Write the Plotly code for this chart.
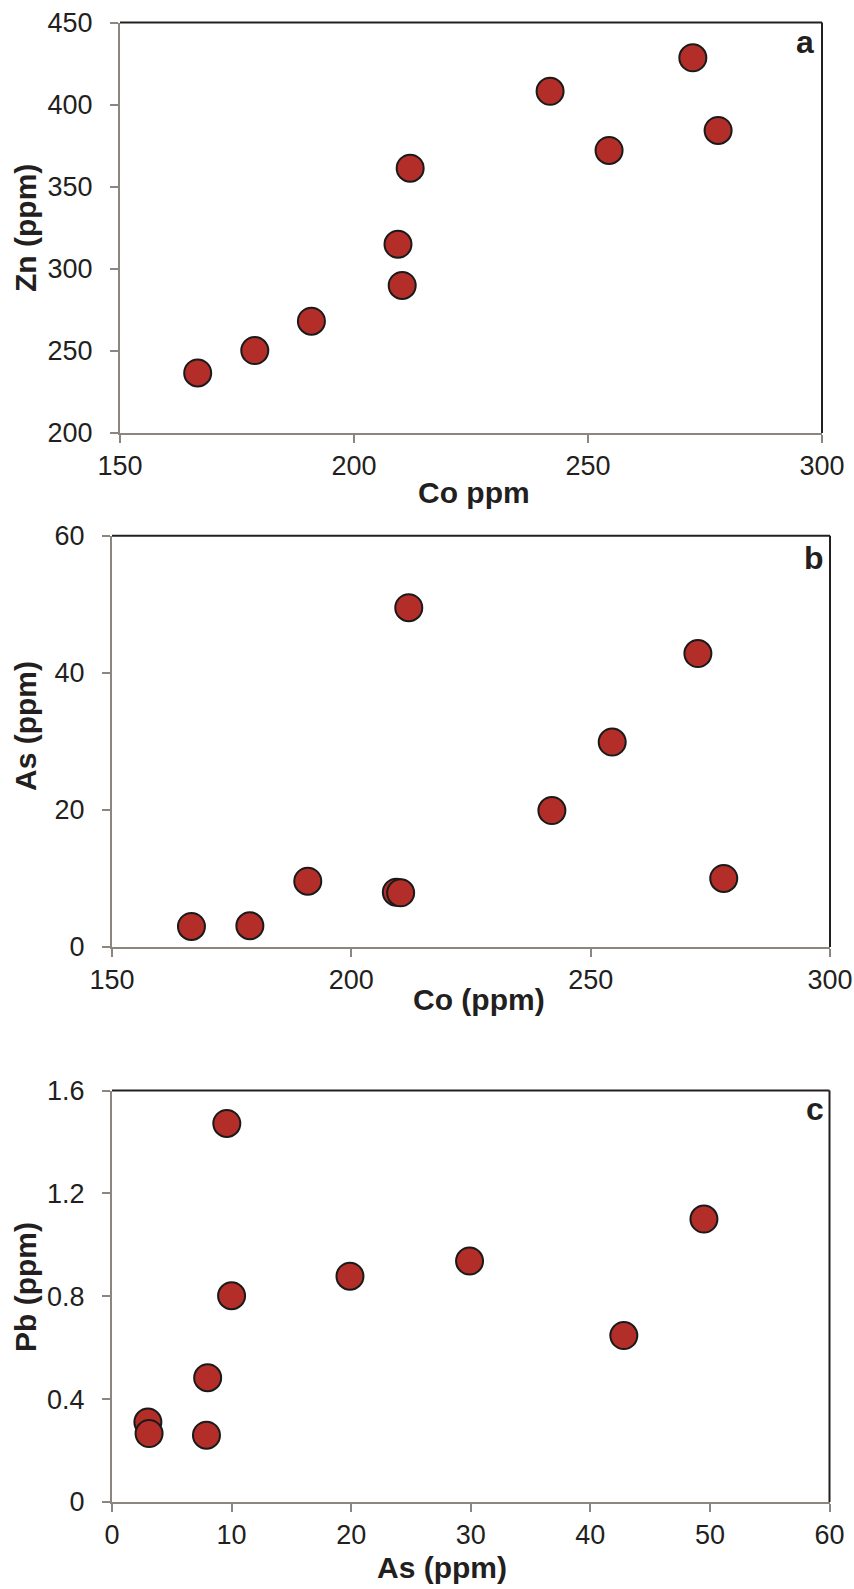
import plotly.graph_objects as go

# Sample chemistry (ppm), one entry per sample
co_ppm = [166.6, 178.8, 190.9, 209.4, 210.3, 212.0, 241.9, 254.5, 272.4, 277.8]
zn_ppm = [236.6, 250.2, 268.1, 314.9, 289.9, 361.3, 408.1, 372.1, 428.5, 384.3]
as_ppm = [3.0, 3.1, 9.6, 8.0, 7.9, 49.5, 19.9, 29.9, 42.8, 10.0]
pb_ppm = [0.311, 0.266, 1.472, 0.483, 0.260, 1.100, 0.878, 0.937, 0.647, 0.802]

# Axis ranges and tick steps per panel
x_ranges = [[150, 300], [150, 300], [0, 60]]
y_ranges = [[200, 450], [0, 60], [0, 1.6]]
x_steps = [50, 50, 10]
y_steps = [50, 20, 0.4]

x_titles = ["Co ppm", "Co (ppm)", "As (ppm)"]
y_titles = ["Zn (ppm)", "As (ppm)", "Pb (ppm)"]
panel_letters = ["a", "b", "c"]

W, H = 854, 1589
FONT = "Liberation Sans, Arial, Helvetica, sans-serif"
INK = "#231f20"
GRAY = "#8c8680"
FILL = "#b32e29"

# plot-area boxes in pixels: left, right, top, bottom
boxes = [
    (120, 822, 22.5, 433),
    (112, 830, 535.7, 947),
    (112, 829.5, 1090.5, 1502),
]
# x-title centre, y-title centre, letter anchor (pixels)
x_title_pos = [(474, 492), (479, 999), (442, 1567)]
y_title_pos = [(25, 228), (25, 726), (25, 1287)]
letter_pos = [(816, 42), (826, 558), (826, 1108.5)]


def px(x):
    return x / W


def py(y):
    return 1 - y / H


fig = go.Figure()

series = [(co_ppm, zn_ppm), (co_ppm, as_ppm), (as_ppm, pb_ppm)]

for i, (xs, ys) in enumerate(series):
    n = "" if i == 0 else str(i + 1)
    fig.add_trace(go.Scatter(
        x=xs, y=ys, mode="markers",
        xaxis="x" + n, yaxis="y" + n,
        marker=dict(size=27, color=FILL, line=dict(color="#1a1a1a", width=2)),
        cliponaxis=False, showlegend=False, hoverinfo="x+y",
    ))

    left, right, top, bottom = boxes[i]
    axis_common = dict(
        showgrid=False, zeroline=False, showline=True, automargin=False,
        linecolor=GRAY, linewidth=2, mirror=False,
        ticks="outside", ticklen=8, tickwidth=1.5, tickcolor=GRAY,
        tickfont=dict(family=FONT, size=27, color=INK),
    )
    fig.update_layout(**{
        "xaxis" + n: dict(
            axis_common, domain=[px(left), px(right)],
            range=x_ranges[i], dtick=x_steps[i], tick0=0,
            anchor="y" + n, ticklabelstandoff=0,
        ),
        "yaxis" + n: dict(
            axis_common, domain=[py(bottom), py(top)],
            range=y_ranges[i], dtick=y_steps[i], tick0=0,
            anchor="x" + n, ticklabelstandoff=12,
        ),
    })

    # dark frame on the top and right sides
    xr = "x" + n + " domain"
    yr = "y" + n + " domain"
    fig.add_shape(type="line", xref=xr, yref=yr, x0=0, x1=1, y0=1, y1=1,
                  line=dict(color=INK, width=2))
    fig.add_shape(type="line", xref=xr, yref=yr, x0=1, x1=1, y0=0, y1=1,
                  line=dict(color=INK, width=2))

    tx, ty = x_title_pos[i]
    fig.add_annotation(text=x_titles[i], xref="paper", yref="paper",
                       x=px(tx), y=py(ty), xanchor="center", yanchor="middle",
                       showarrow=False,
                       font=dict(family=FONT, size=30, color=INK, weight="bold"))
    vx, vy = y_title_pos[i]
    fig.add_annotation(text=y_titles[i], xref="paper", yref="paper",
                       x=px(vx), y=py(vy), xanchor="center", yanchor="middle",
                       textangle=-90, showarrow=False,
                       font=dict(family=FONT, size=30, color=INK, weight="bold"))
    lx, ly = letter_pos[i]
    fig.add_annotation(text=panel_letters[i], xref="paper", yref="paper",
                       x=px(lx), y=py(ly), xanchor="right", yanchor="middle",
                       showarrow=False,
                       font=dict(family=FONT, size=32, color=INK, weight="bold"))

fig.update_layout(
    width=W, height=H,
    margin=dict(l=0, r=0, t=0, b=0),
    paper_bgcolor="white", plot_bgcolor="white",
)

fig.write_html("out.html")
